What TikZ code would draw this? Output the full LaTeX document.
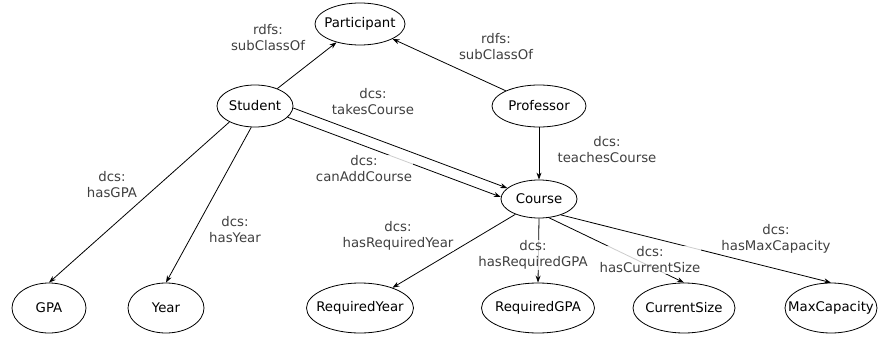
\documentclass[tikz,border=0pt]{standalone}
\usepackage{fontspec}
\setmainfont{DejaVu Sans}
\usetikzlibrary{shapes.geometric,arrows.meta}
\begin{document}
\begin{tikzpicture}[x=1pt, y=-1pt, every node/.style={font=\fontsize{13.3}{16}\selectfont},
    cls/.style={draw, ellipse, line width=0.8pt, inner sep=0pt, minimum height=42pt, label=center:{#1}},
    lit/.style={cls=#1, minimum height=50pt},
    rel/.style={line width=0.8pt, -{Stealth[length=7pt,width=5pt]}},
    lbl/.style={fill=white, fill opacity=0.8, text opacity=1, inner sep=1pt, align=center, text=black!75}]
    \useasboundingbox (0,0) rectangle (878,337);

    % Klassen oben
    \node[cls=Participant, minimum width=90pt] (participant) at (360,24) {};
    \node[cls=Student, minimum width=76pt] (student) at (255,106) {};
    \node[cls=Professor, minimum width=94pt] (professor) at (539,106) {};
    \node[cls=Course, minimum width=76pt, minimum height=38pt] (course) at (539,199) {};

    % Werte unten
    \node[lit=GPA, minimum width=74pt] (gpa) at (49,308) {};
    \node[lit=Year, minimum width=76pt] (year) at (166,308) {};
    \node[lit=RequiredYear, minimum width=107pt] (reqyear) at (360,308) {};
    \node[lit=RequiredGPA, minimum width=113pt] (reqgpa) at (538,308) {};
    \node[lit=CurrentSize, minimum width=102pt] (cursize) at (684,308) {};
    \node[lit=MaxCapacity, minimum width=92pt] (maxcap) at (831,308) {};

    % Kanten
    \draw[rel] (student) -- (participant);
    \draw[rel] (professor) -- (participant);
    \draw[rel] (student.-3) -- (course.161);
    \draw[rel] (student.-19) -- (course.177);
    \draw[rel] (professor.south) -- (course.north);
    \draw[rel] (student.-148) -- (gpa.north);
    \draw[rel] (student.-100) -- (year.north);
    \draw[rel] (course.-147) -- (reqyear.32);
    \draw[rel] (course.south) -- (reqgpa.north);
    \draw[rel] (course.-62) -- (cursize.north);
    \draw[rel] (course.-36) -- (maxcap.north);

    % Beschriftungen
    \node[lbl] (l-sub1) at (268,38) {rdfs:\\subClassOf};
    \node[lbl] (l-sub2) at (496,47) {rdfs:\\subClassOf};
    \node[lbl] (l-takes) at (373,102) {dcs:\\takesCourse};
    \node[lbl] (l-canadd) at (364,169) {dcs:\\canAddCourse};
    \node[lbl] (l-teaches) at (607,150) {dcs:\\teachesCourse};
    \node[lbl] (l-gpa) at (112,185) {dcs:\\hasGPA};
    \node[lbl] (l-year) at (235,230) {dcs:\\hasYear};
    \node[lbl] (l-reqyear) at (398,236) {dcs:\\hasRequiredYear};
    \node[lbl] (l-reqgpa) at (533,255) {dcs:\\hasRequiredGPA};
    \node[lbl] (l-cursize) at (650,260) {dcs:\\hasCurrentSize};
    \node[lbl] (l-maxcap) at (776,239) {dcs:\\hasMaxCapacity};
\end{tikzpicture}
\end{document}
